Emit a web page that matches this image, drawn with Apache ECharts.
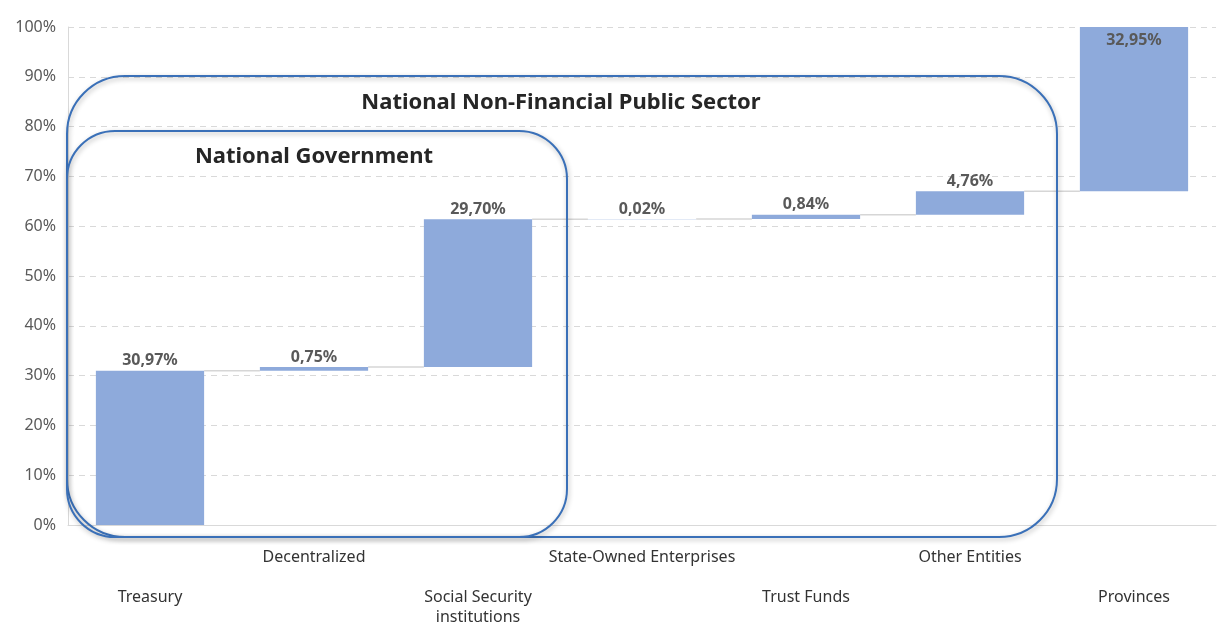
<!DOCTYPE html>
<html>
<head>
<meta charset="utf-8">
<script src="https://cdn.jsdelivr.net/npm/echarts@6/dist/echarts.min.js"></script>
<style>
html,body{margin:0;padding:0;background:#fff;}
#c{width:1217px;height:633px;}
</style>
</head>
<body>
<div id="c"></div>
<script>
var categories = ['Treasury', 'Decentralized', 'Social Security\ninstitutions', 'State-Owned Enterprises', 'Trust Funds', 'Other Entities', 'Provinces'];
var values = [30.97, 0.75, 29.70, 0.02, 0.84, 4.76, 32.95];
var yTicks = [0, 10, 20, 30, 40, 50, 60, 70, 80, 90, 100];

var bases = [];
var ends = [];
var run = 0;
for (var i = 0; i < values.length; i++) {
  bases.push(run);
  run += values[i];
  ends.push(run);
}
var connectors = [];
for (var j = 0; j < values.length - 1; j++) connectors.push([j, ends[j]]);

function fmt(v) { return v.toFixed(2).replace('.', ',') + '%'; }

var barColor = '#8eaadb';
var valueData = values.map(function (v, k) {
  var d = { value: v };
  if (k === values.length - 1) {
    d.label = { position: 'insideTop', distance: 5 };
  }
  return d;
});

var chart = echarts.init(document.getElementById('c'));
chart.setOption({
  animation: false,
  backgroundColor: '#ffffff',
  grid: { left: 68, right: 1, top: 27, bottom: 108 },
  xAxis: {
    type: 'category',
    data: categories,
    axisLine: { show: true, lineStyle: { color: '#d9d9d9' } },
    axisTick: { show: false },
    axisLabel: {
      interval: 0,
      margin: 22,
      color: '#333333',
      fontFamily: 'Noto Sans',
      fontSize: 16,
      lineHeight: 20,
      formatter: function (v, idx) { return idx % 2 === 0 ? '\n\n' + v : v; }
    }
  },
  yAxis: {
    type: 'value',
    min: 0,
    max: 100,
    interval: 10,
    axisLine: { show: true, lineStyle: { color: '#d9d9d9' } },
    axisTick: { show: false },
    axisLabel: {
      margin: 12,
      color: '#595959',
      fontFamily: 'Noto Sans',
      fontSize: 16,
      formatter: function (v) { return yTicks.indexOf(v) >= 0 ? v + '%' : ''; }
    },
    splitLine: { show: true, lineStyle: { color: '#d9d9d9', type: [6, 5], width: 1 } }
  },
  series: [
    {
      type: 'bar',
      stack: 'w',
      data: bases,
      itemStyle: { color: 'rgba(0,0,0,0)' },
      barCategoryGap: '34%',
      silent: true
    },
    {
      type: 'bar',
      stack: 'w',
      data: valueData,
      itemStyle: { color: barColor },
      barCategoryGap: '34%',
      label: {
        show: true,
        position: 'top',
        distance: 2,
        color: '#595959',
        fontFamily: 'Noto Sans',
        fontWeight: 'bold',
        fontSize: 16,
        formatter: function (p) { return fmt(p.value); }
      }
    },
    {
      type: 'custom',
      data: connectors,
      z: 1,
      renderItem: function (params, api) {
        var p = api.coord([api.value(0), api.value(1)]);
        var band = api.size([1, 0])[0];
        var half = band * 0.33;
        return {
          type: 'line',
          shape: { x1: p[0] + half, y1: p[1], x2: p[0] + band - half, y2: p[1] },
          style: { stroke: '#d6d6d6', lineWidth: 1.5 }
        };
      }
    }
  ],
  graphic: [
    {
      type: 'rect',
      z: 100,
      shape: { x: 67, y: 76, width: 990, height: 461, r: 58 },
      style: { fill: 'none', stroke: '#3a70b8', lineWidth: 2, shadowBlur: 5, shadowColor: 'rgba(0,0,0,0.3)', shadowOffsetX: 1, shadowOffsetY: 2 }
    },
    {
      type: 'rect',
      z: 100,
      shape: { x: 67, y: 131, width: 500, height: 406, r: 48 },
      style: { fill: 'none', stroke: '#3a70b8', lineWidth: 2, shadowBlur: 5, shadowColor: 'rgba(0,0,0,0.3)', shadowOffsetX: 1, shadowOffsetY: 2 }
    },
    {
      type: 'text',
      z: 101,
      x: 561, y: 103,
      style: { text: 'National Non-Financial Public Sector', fill: '#262626', font: 'bold 22px "Noto Sans"', textAlign: 'center', textVerticalAlign: 'middle' }
    },
    {
      type: 'text',
      z: 101,
      x: 314, y: 157,
      style: { text: 'National Government', fill: '#262626', font: 'bold 22px "Noto Sans"', textAlign: 'center', textVerticalAlign: 'middle' }
    }
  ]
});
</script>
</body>
</html>
